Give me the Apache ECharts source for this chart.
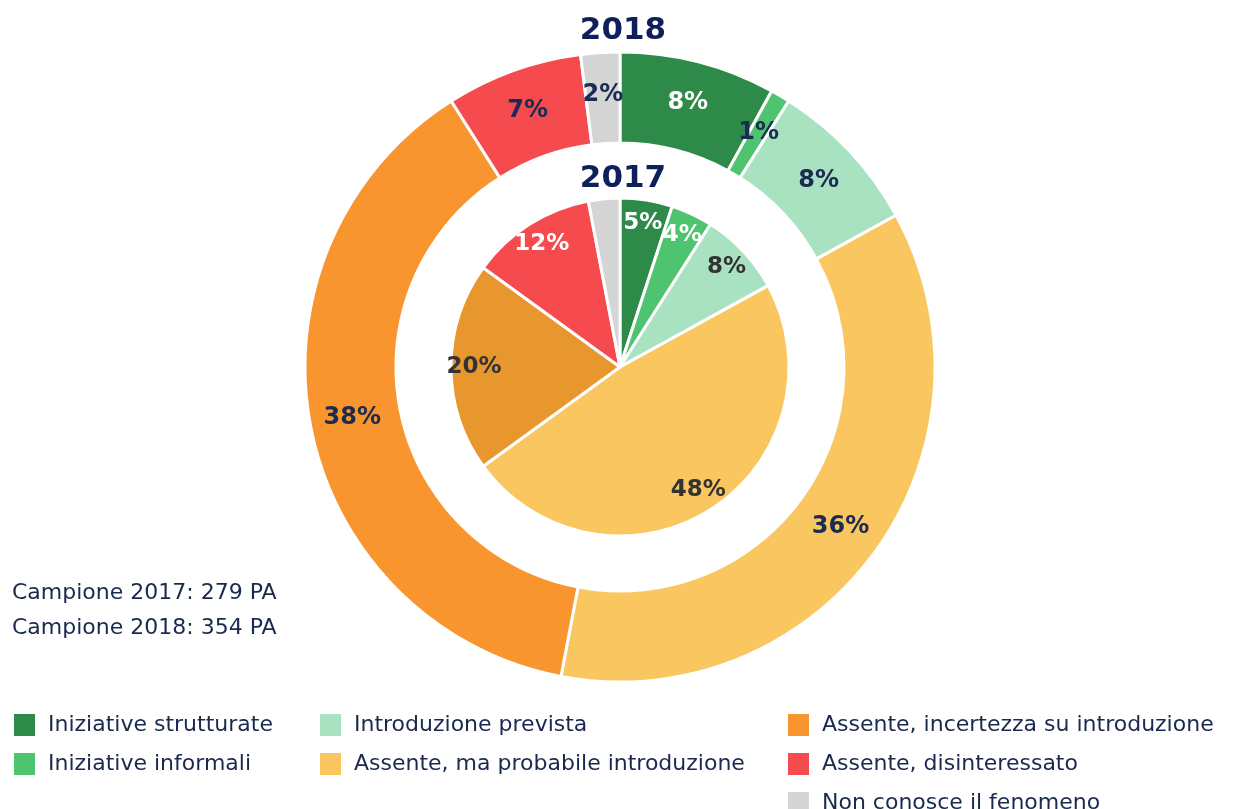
<!DOCTYPE html>
<html>
<head>
<meta charset="utf-8">
<script src="https://cdn.jsdelivr.net/npm/echarts@6/dist/echarts.min.js"></script>
<style>
  html, body { margin: 0; padding: 0; background: #fff; }
  #chart { width: 1239px; height: 809px; }
</style>
</head>
<body>
<div id="chart"></div>
<script>
// categorie (ordine orario dalle 12)
var categories = [
  "Iniziative strutturate",
  "Iniziative informali",
  "Introduzione prevista",
  "Assente, ma probabile introduzione",
  "Assente, incertezza su introduzione",
  "Assente, disinteressato",
  "Non conosce il fenomeno"
];
var values2018 = [8, 1, 8, 36, 38, 7, 2];
var values2017 = [5, 4, 8, 48, 20, 12, 3];

// colori
var colors2018 = ["#2d8a48", "#4ec471", "#a9e2c0", "#f9c660", "#f8952e", "#f54b4f", "#d5d5d5"];
var colors2017 = ["#2d8a48", "#4ec471", "#a9e2c0", "#f9c660", "#e8962e", "#f54b4f", "#d5d5d5"];
var labelColors2018 = ["#ffffff", "#1b2b52", "#1b2b52", "#1b2b52", "#1b2b52", "#1b2b52", "#1b2b52"];
var labelColors2017 = ["#ffffff", "#ffffff", "#333333", "#333333", "#333333", "#ffffff", "#333333"];

var chart = echarts.init(document.getElementById("chart"), null, { renderer: "canvas" });

var font = "DejaVu Sans";
var center = [620, 367];

function buildData(values, cols, labelCols) {
  return values.map(function (v, i) {
    return {
      name: categories[i],
      value: v,
      itemStyle: { color: cols[i] },
      label: { color: labelCols[i] }
    };
  });
}

function legendFor(names, left) {
  return {
    orient: "vertical",
    left: left,
    top: 712,
    height: 120,
    padding: 0,
    icon: "rect",
    itemWidth: 23,
    itemHeight: 24,
    itemGap: 13,
    selectedMode: false,
    data: names,
    textStyle: { fontFamily: font, fontSize: 22, color: "#1a2a4e", padding: [0, 0, 0, 7] }
  };
}

var option = {
  backgroundColor: "#ffffff",
  animation: false,
  title: [
    {
      text: "2018",
      left: 618, top: 10, textAlign: "center",
      textStyle: { fontFamily: font, fontSize: 31, fontWeight: "bold", color: "#0f1f5c" }
    },
    {
      text: "2017",
      left: 618, top: 158, textAlign: "center",
      textStyle: { fontFamily: font, fontSize: 31, fontWeight: "bold", color: "#0f1f5c" }
    },
    {
      text: "Campione 2017: 279 PA\nCampione 2018: 354 PA",
      left: 7, top: 571,
      textStyle: { fontFamily: font, fontSize: 22, fontWeight: "normal", color: "#1a2a4e", lineHeight: 35 }
    }
  ],
  legend: [
    legendFor(categories.slice(0, 2), 12),
    legendFor(categories.slice(2, 4), 318),
    legendFor(categories.slice(4, 7), 786)
  ],
  series: [
    {
      name: "2018",
      type: "pie",
      center: center,
      radius: [224, 315],
      startAngle: 90,
      clockwise: true,
      avoidLabelOverlap: false,
      silent: true,
      itemStyle: { borderColor: "#ffffff", borderWidth: 3 },
      label: {
        show: true, position: "inside",
        formatter: "{c}%",
        fontFamily: font, fontSize: 24, fontWeight: "bold"
      },
      labelLine: { show: false },
      data: buildData(values2018, colors2018, labelColors2018)
    },
    {
      name: "2017",
      type: "pie",
      center: center,
      radius: [0, 169],
      startAngle: 90,
      clockwise: true,
      silent: true,
      itemStyle: { borderColor: "#ffffff", borderWidth: 3 },
      label: { show: false },
      labelLine: { show: false },
      data: buildData(values2017, colors2017, labelColors2017)
    },
    {
      // anello trasparente solo per posizionare le etichette 2017
      name: "2017 etichette",
      type: "pie",
      center: center,
      radius: [118, 168],
      startAngle: 90,
      clockwise: true,
      silent: true,
      avoidLabelOverlap: false,
      itemStyle: { color: "rgba(0,0,0,0)", borderWidth: 0 },
      label: {
        show: true, position: "inside",
        formatter: "{c}%",
        fontFamily: font, fontSize: 23, fontWeight: "bold"
      },
      labelLine: { show: false },
      data: values2017.map(function (v, i) {
        return { name: categories[i], value: v, itemStyle: { color: "rgba(0,0,0,0)" }, label: { color: labelColors2017[i] } };
      })
    }
  ]
};

chart.setOption(option);
</script>
</body>
</html>
